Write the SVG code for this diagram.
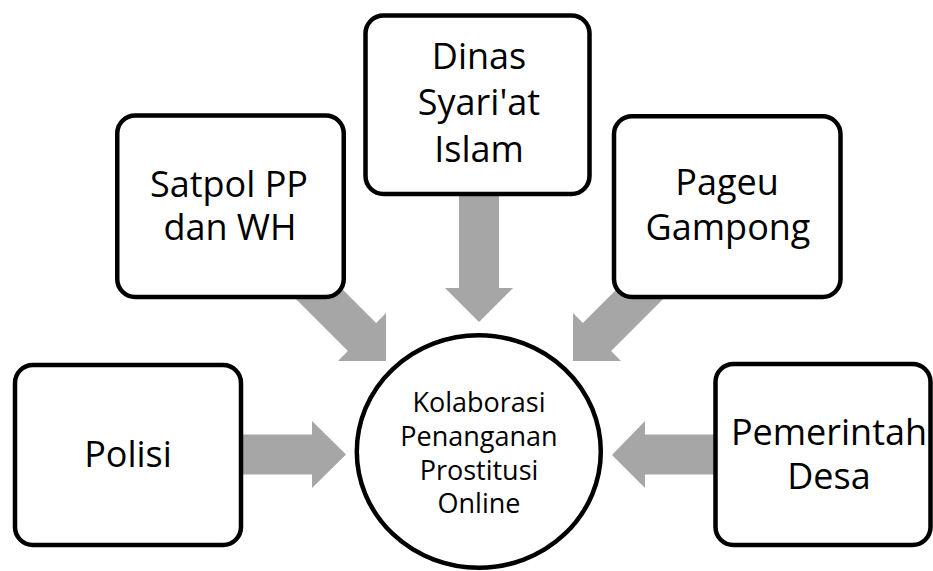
<svg xmlns="http://www.w3.org/2000/svg" width="933" height="571" viewBox="0 0 933 571">
  <style>
    .box { fill: #FFFFFF; stroke: #000000; stroke-width: 4.5; }
    .arrow { fill: #A6A6A6; stroke: none; }
    .lbl { font-family: "Open Sans", "Liberation Sans", sans-serif; font-size: 36px; fill: #000000; text-anchor: middle; }
    .lbl-sm { font-family: "Open Sans", "Liberation Sans", sans-serif; font-size: 27px; fill: #000000; text-anchor: middle; }
  </style>
  <rect x="0" y="0" width="933" height="571" fill="#FFFFFF"/>
  <g id="connectors">
    <!-- Polisi -> center -->
    <polygon class="arrow" points="230,434.5 312,434.5 312,421 346,454.5 312,488 312,474.5 230,474.5"/>
    <!-- Pemerintah Desa -> center -->
    <polygon class="arrow" points="725,434.5 645,434.5 645,421 612,455 645,488 645,474.5 725,474.5"/>
    <!-- Dinas -> center -->
    <polygon class="arrow" points="459,185 459,288 445,288 479,322 513,288 499,288 499,185"/>
    <!-- Satpol -> center -->
    <polygon class="arrow" points="314.1,260.9 376.1,322.9 386,313 386,361 338,361 347.9,351.1 285.9,289.1"/>
    <!-- Pageu -> center -->
    <polygon class="arrow" points="644.9,260.9 582.9,322.9 573,313 573,361 621,361 611.1,351.1 673.1,289.1"/>
  </g>
  <g id="node-center">
    <ellipse class="box" cx="478.8" cy="451.5" rx="122" ry="116.3"/>
    <text class="lbl-sm" x="479" y="411.5">Kolaborasi</text>
    <text class="lbl-sm" x="479" y="445.5">Penanganan</text>
    <text class="lbl-sm" x="479" y="479.5">Prostitusi</text>
    <text class="lbl-sm" x="479" y="513">Online</text>
  </g>
  <g id="node-polisi">
    <rect class="box" x="15" y="365" width="226" height="180" rx="18" ry="18"/>
    <text class="lbl" x="128" y="467">Polisi</text>
  </g>
  <g id="node-satpol">
    <rect class="box" x="117.25" y="115.5" width="226.5" height="181.5" rx="18" ry="18"/>
    <text class="lbl" x="229" y="197">Satpol PP</text>
    <text class="lbl" x="230" y="240">dan WH</text>
  </g>
  <g id="node-dinas">
    <rect class="box" x="365.5" y="15.5" width="224" height="178.5" rx="18" ry="18"/>
    <text class="lbl" x="479" y="69">Dinas</text>
    <text class="lbl" x="479" y="115">Syari'at</text>
    <text class="lbl" x="479" y="161.5">Islam</text>
  </g>
  <g id="node-pageu">
    <rect class="box" x="614" y="116.25" width="226.5" height="180.75" rx="18" ry="18"/>
    <text class="lbl" x="727" y="194.5">Pageu</text>
    <text class="lbl" x="728" y="239.5">Gampong</text>
  </g>
  <g id="node-pemerintah">
    <rect class="box" x="715.5" y="364" width="215" height="181" rx="18" ry="18"/>
    <text class="lbl" x="829" y="445">Pemerintah</text>
    <text class="lbl" x="829" y="488.5">Desa</text>
  </g>
</svg>
